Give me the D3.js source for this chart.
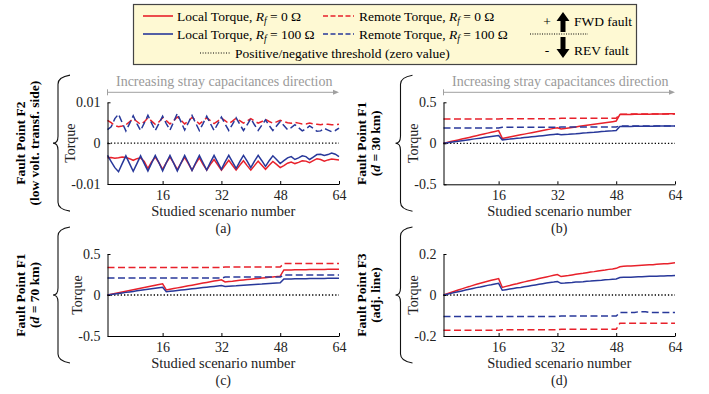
<!DOCTYPE html>
<html>
<head>
<meta charset="utf-8">
<title>Torque vs scenario</title>
<script src="https://cdn.jsdelivr.net/npm/d3@7"></script>
<style>
body { margin: 0; background: #fff; }
svg text { font-family: "Liberation Serif", "Times New Roman", serif; }
</style>
</head>
<body>
<script>

var width = 709
var height = 394

// scenario numbers (x categories)
var scenarios = d3.range(1, 65)
var xTicks = [16, 32, 48, 64]

// ---- (a) Fault point F2, low voltage transformer side ----
var f2LocalR0 = [-0.0036,-0.0035,-0.0037,-0.0036,-0.0034,-0.0035,-0.0038,-0.0042,-0.0038,-0.0036,-0.0045,-0.0062,-0.0046,-0.0034,-0.0048,-0.0064,
	-0.0048,-0.0034,-0.0048,-0.0065,-0.0049,-0.0035,-0.0050,-0.0066,-0.0050,-0.0036,-0.0052,-0.0066,-0.0052,-0.0040,-0.0053,-0.0066,
	-0.0054,-0.0042,-0.0054,-0.0066,-0.0054,-0.0043,-0.0055,-0.0066,-0.0055,-0.0044,-0.0054,-0.0064,-0.0054,-0.0045,-0.0052,-0.0060,
	-0.0055,-0.0049,-0.0046,-0.0050,-0.0047,-0.0043,-0.0044,-0.0048,-0.0043,-0.0038,-0.0040,-0.0044,-0.0041,-0.0039,-0.0040,-0.0041]
var f2RemoteR0 = [0.0056,0.0050,0.0043,0.0040,0.0042,0.0045,0.0052,0.0060,0.0053,0.0046,0.0052,0.0062,0.0054,0.0046,0.0052,0.0062,
	0.0055,0.0047,0.0055,0.0064,0.0056,0.0047,0.0054,0.0063,0.0056,0.0047,0.0054,0.0062,0.0055,0.0048,0.0054,0.0061,
	0.0055,0.0048,0.0054,0.0061,0.0055,0.0049,0.0054,0.0060,0.0054,0.0049,0.0053,0.0058,0.0053,0.0049,0.0052,0.0056,
	0.0053,0.0050,0.0049,0.0051,0.0049,0.0047,0.0047,0.0049,0.0047,0.0046,0.0045,0.0047,0.0046,0.0045,0.0045,0.0046]
var f2LocalR100 = [-0.0030,-0.0045,-0.0060,-0.0070,-0.0050,-0.0031,-0.0050,-0.0069,-0.0050,-0.0031,-0.0050,-0.0068,-0.0049,-0.0030,-0.0048,-0.0068,
	-0.0048,-0.0030,-0.0049,-0.0068,-0.0049,-0.0030,-0.0048,-0.0067,-0.0048,-0.0030,-0.0048,-0.0066,-0.0047,-0.0030,-0.0047,-0.0064,
	-0.0046,-0.0030,-0.0046,-0.0062,-0.0045,-0.0030,-0.0044,-0.0060,-0.0044,-0.0030,-0.0043,-0.0057,-0.0043,-0.0031,-0.0040,-0.0050,
	-0.0043,-0.0036,-0.0033,-0.0040,-0.0036,-0.0031,-0.0033,-0.0040,-0.0034,-0.0028,-0.0027,-0.0030,-0.0028,-0.0024,-0.0027,-0.0033]
var f2RemoteR100 = [0.0033,0.0040,0.0060,0.0071,0.0050,0.0030,0.0048,0.0067,0.0048,0.0031,0.0049,0.0068,0.0049,0.0031,0.0048,0.0066,
	0.0048,0.0032,0.0052,0.0073,0.0052,0.0032,0.0050,0.0068,0.0049,0.0031,0.0048,0.0066,0.0048,0.0031,0.0047,0.0064,
	0.0047,0.0031,0.0046,0.0062,0.0046,0.0031,0.0045,0.0060,0.0045,0.0031,0.0044,0.0057,0.0043,0.0031,0.0042,0.0053,
	0.0043,0.0033,0.0038,0.0045,0.0038,0.0030,0.0035,0.0042,0.0036,0.0029,0.0030,0.0036,0.0032,0.0028,0.0031,0.0037]

// ---- (b) Fault point F1, d = 30 km ----
var f1d30LocalR0 = [0,0.010,0.021,0.031,0.041,0.052,0.062,0.072,0.083,0.093,0.103,0.114,0.124,0.134,0.145,0.155,
	0.060,0.069,0.077,0.086,0.095,0.103,0.112,0.121,0.130,0.138,0.147,0.156,0.164,0.173,0.182,0.190,
	0.175,0.181,0.188,0.194,0.200,0.207,0.213,0.219,0.226,0.232,0.238,0.245,0.251,0.257,0.264,0.272,
	0.350,0.351,0.351,0.352,0.353,0.353,0.354,0.355,0.355,0.356,0.357,0.357,0.358,0.359,0.359,0.360]
var f1d30RemoteR0 = [0.297,0.297,0.297,0.297,0.297,0.297,0.297,0.297,0.297,0.297,0.297,0.297,0.297,0.297,0.297,0.297,
	0.299,0.299,0.299,0.299,0.299,0.299,0.299,0.299,0.299,0.299,0.299,0.299,0.299,0.299,0.299,0.299,
	0.305,0.305,0.305,0.305,0.305,0.305,0.305,0.305,0.305,0.305,0.305,0.305,0.305,0.305,0.305,0.305,
	0.355,0.355,0.355,0.356,0.356,0.356,0.356,0.357,0.357,0.357,0.357,0.357,0.358,0.358,0.358,0.358]
var f1d30LocalR100 = [0,0.006,0.013,0.019,0.025,0.032,0.038,0.044,0.051,0.057,0.063,0.070,0.076,0.082,0.089,0.095,
	0.042,0.047,0.051,0.056,0.061,0.065,0.070,0.075,0.079,0.084,0.089,0.093,0.098,0.103,0.107,0.112,
	0.103,0.107,0.110,0.114,0.117,0.121,0.125,0.128,0.132,0.135,0.139,0.143,0.146,0.150,0.153,0.157,
	0.205,0.205,0.206,0.206,0.207,0.207,0.208,0.208,0.209,0.209,0.210,0.210,0.211,0.211,0.212,0.212]
var f1d30RemoteR100 = [0.186,0.186,0.186,0.186,0.186,0.186,0.186,0.186,0.186,0.186,0.186,0.186,0.186,0.186,0.186,0.186,
	0.196,0.196,0.196,0.196,0.196,0.196,0.196,0.196,0.196,0.196,0.196,0.196,0.196,0.196,0.196,0.196,
	0.198,0.198,0.198,0.198,0.198,0.198,0.198,0.198,0.198,0.198,0.198,0.198,0.198,0.198,0.198,0.198,
	0.212,0.212,0.212,0.212,0.212,0.212,0.212,0.212,0.212,0.212,0.212,0.212,0.212,0.212,0.212,0.212]

// ---- (c) Fault point F1, d = 70 km ----
var f1d70LocalR0 = [0,0.009,0.018,0.027,0.037,0.046,0.055,0.064,0.073,0.082,0.091,0.100,0.110,0.119,0.128,0.137,
	0.062,0.070,0.079,0.087,0.095,0.103,0.112,0.120,0.128,0.137,0.145,0.153,0.161,0.170,0.178,0.186,
	0.160,0.165,0.169,0.174,0.179,0.183,0.188,0.193,0.197,0.202,0.207,0.211,0.216,0.221,0.225,0.230,
	0.305,0.306,0.306,0.307,0.308,0.308,0.309,0.310,0.310,0.311,0.312,0.312,0.313,0.314,0.314,0.315]
var f1d70RemoteR0 = [0.335,0.335,0.335,0.335,0.335,0.335,0.335,0.335,0.335,0.335,0.335,0.335,0.335,0.335,0.335,0.335,
	0.335,0.335,0.335,0.335,0.335,0.335,0.335,0.335,0.335,0.335,0.335,0.335,0.335,0.335,0.335,0.335,
	0.342,0.342,0.342,0.342,0.342,0.342,0.342,0.342,0.342,0.342,0.342,0.342,0.342,0.342,0.342,0.342,
	0.385,0.385,0.385,0.385,0.385,0.385,0.385,0.385,0.385,0.385,0.385,0.385,0.385,0.385,0.385,0.385]
var f1d70LocalR100 = [0,0.006,0.013,0.019,0.025,0.032,0.038,0.044,0.051,0.057,0.063,0.070,0.076,0.082,0.089,0.095,
	0.040,0.045,0.050,0.055,0.060,0.065,0.070,0.075,0.080,0.085,0.090,0.095,0.100,0.105,0.110,0.115,
	0.105,0.108,0.111,0.113,0.116,0.119,0.122,0.125,0.128,0.131,0.133,0.136,0.139,0.142,0.145,0.148,
	0.195,0.196,0.196,0.197,0.198,0.198,0.199,0.200,0.200,0.201,0.202,0.202,0.203,0.204,0.204,0.205]
var f1d70RemoteR100 = [0.207,0.207,0.207,0.207,0.207,0.207,0.207,0.207,0.207,0.207,0.207,0.207,0.207,0.207,0.207,0.207,
	0.207,0.207,0.207,0.207,0.207,0.207,0.207,0.207,0.207,0.207,0.207,0.207,0.207,0.207,0.207,0.207,
	0.218,0.218,0.218,0.218,0.218,0.218,0.218,0.218,0.218,0.218,0.218,0.218,0.218,0.218,0.218,0.218,
	0.245,0.245,0.245,0.245,0.245,0.245,0.245,0.245,0.245,0.245,0.245,0.245,0.245,0.245,0.245,0.245]

// ---- (d) Fault point F3, adjacent line ----
var f3LocalR0 = [0,0.006,0.012,0.018,0.024,0.030,0.036,0.041,0.047,0.052,0.057,0.062,0.067,0.072,0.076,0.080,
	0.037,0.042,0.046,0.051,0.055,0.060,0.064,0.068,0.072,0.076,0.080,0.084,0.088,0.092,0.096,0.100,
	0.090,0.093,0.095,0.098,0.101,0.104,0.106,0.109,0.112,0.114,0.117,0.120,0.122,0.125,0.127,0.130,
	0.138,0.140,0.141,0.142,0.143,0.144,0.145,0.146,0.147,0.148,0.150,0.151,0.152,0.153,0.155,0.157]
var f3RemoteR0 = [-0.172,-0.172,-0.172,-0.172,-0.172,-0.172,-0.172,-0.172,-0.172,-0.172,-0.172,-0.172,-0.172,-0.172,-0.172,-0.172,
	-0.170,-0.170,-0.170,-0.170,-0.170,-0.170,-0.170,-0.170,-0.170,-0.170,-0.170,-0.170,-0.170,-0.170,-0.170,-0.170,
	-0.167,-0.167,-0.167,-0.167,-0.167,-0.167,-0.167,-0.167,-0.167,-0.167,-0.167,-0.167,-0.167,-0.167,-0.167,-0.167,
	-0.138,-0.138,-0.138,-0.138,-0.138,-0.138,-0.138,-0.138,-0.138,-0.138,-0.138,-0.138,-0.138,-0.138,-0.138,-0.138]
var f3LocalR100 = [0,0.004,0.008,0.012,0.016,0.020,0.024,0.028,0.032,0.036,0.039,0.043,0.047,0.050,0.054,0.057,
	0.023,0.026,0.029,0.032,0.035,0.037,0.040,0.043,0.046,0.049,0.052,0.055,0.058,0.061,0.063,0.066,
	0.057,0.058,0.060,0.061,0.063,0.064,0.065,0.067,0.068,0.070,0.071,0.072,0.074,0.075,0.077,0.078,
	0.085,0.086,0.087,0.087,0.088,0.089,0.089,0.090,0.091,0.091,0.092,0.093,0.093,0.094,0.094,0.095]
var f3RemoteR100 = [-0.105,-0.105,-0.105,-0.105,-0.105,-0.105,-0.105,-0.105,-0.105,-0.105,-0.105,-0.105,-0.105,-0.105,-0.105,-0.105,
	-0.105,-0.105,-0.105,-0.105,-0.105,-0.105,-0.105,-0.105,-0.105,-0.105,-0.105,-0.105,-0.105,-0.105,-0.105,-0.105,
	-0.103,-0.103,-0.103,-0.103,-0.103,-0.103,-0.103,-0.103,-0.103,-0.103,-0.103,-0.103,-0.103,-0.103,-0.103,-0.103,
	-0.085,-0.085,-0.085,-0.085,-0.085,-0.082,-0.082,-0.082,-0.085,-0.085,-0.085,-0.085,-0.085,-0.085,-0.085,-0.085]

var red = '#e8212b'
var blue = '#28389a'
var dash = '7,3.5'

// order: local R0, remote R0, local R100, remote R100
var seriesStyle = [
	{color: red, dash: null},
	{color: red, dash: dash},
	{color: blue, dash: null},
	{color: blue, dash: dash}
]

var svg = d3.select('body').append('svg')
	.attr('width', width)
	.attr('height', height)

var panels = [
	{tag: '(a)', left: 107.5, top: 102.3, bottom: 184, yDomain: [-0.01, 0.01], yTicks: [-0.01, 0, 0.01],
		series: [f2LocalR0, f2RemoteR0, f2LocalR100, f2RemoteR100],
		line1: 'Fault Point F2', line2: [['(low volt. transf. side)', false]],
		labelX: [25, 39], braceX: 58, torqueX: 75, hint: true},
	{tag: '(b)', left: 443.5, top: 102.3, bottom: 184.3, yDomain: [-0.5, 0.5], yTicks: [-0.5, 0, 0.5],
		series: [f1d30LocalR0, f1d30RemoteR0, f1d30LocalR100, f1d30RemoteR100],
		line1: 'Fault Point F1', line2: [['(', false], ['d', true], [' = 30 km)', false]],
		labelX: [366, 380], braceX: 400.5, torqueX: 418, hint: true},
	{tag: '(c)', left: 107.5, top: 254, bottom: 336, yDomain: [-0.5, 0.5], yTicks: [-0.5, 0, 0.5],
		series: [f1d70LocalR0, f1d70RemoteR0, f1d70LocalR100, f1d70RemoteR100],
		line1: 'Fault Point F1', line2: [['(', false], ['d', true], [' = 70 km)', false]],
		labelX: [25, 39], braceX: 58, torqueX: 82, hint: false},
	{tag: '(d)', left: 443.5, top: 254, bottom: 336, yDomain: [-0.2, 0.2], yTicks: [-0.2, 0, 0.2],
		series: [f3LocalR0, f3RemoteR0, f3LocalR100, f3RemoteR100],
		line1: 'Fault Point F3', line2: [['(adj. line)', false]],
		labelX: [366, 380], braceX: 400.5, torqueX: 418, hint: false}
]

var plotW = 231.5

panels.forEach(drawPanel)

function drawPanel(p) {
	var x = d3.scaleLinear().domain([1, 64]).range([p.left, p.left + plotW])
	var y = d3.scaleLinear().domain(p.yDomain).range([p.bottom, p.top])
	var g = svg.append('g')

	// zero threshold
	g.append('line')
		.attr('x1', x(1)).attr('x2', x(64))
		.attr('y1', y(0)).attr('y2', y(0))
		.attr('stroke', '#000')
		.attr('stroke-width', 1.3)
		.attr('stroke-dasharray', '1.3,2')

	var line = d3.line()
		.x(function(d, i) { return x(scenarios[i]) })
		.y(function(d) { return y(d) })

	p.series.forEach(function(s, k) {
		g.append('path')
			.datum(s)
			.attr('d', line)
			.attr('fill', 'none')
			.attr('stroke', seriesStyle[k].color)
			.attr('stroke-width', 1.5)
			.attr('stroke-dasharray', seriesStyle[k].dash)
	})

	var xAxis = g.append('g')
		.attr('transform', 'translate(0,' + p.bottom + ')')
		.call(d3.axisBottom(x).tickValues(xTicks).tickSizeInner(-3).tickSizeOuter(0).tickPadding(6))
	var yAxis = g.append('g')
		.attr('transform', 'translate(' + p.left + ',0)')
		.call(d3.axisLeft(y).tickValues(p.yTicks).tickSizeInner(-3).tickSizeOuter(0).tickPadding(7)
			.tickFormat(function(d) { return d === 0 ? '0' : String(d) }))

	;[xAxis, yAxis].forEach(function(a) {
		a.attr('font-family', null).attr('font-size', null)
		a.select('.domain').attr('stroke', '#000').attr('stroke-width', 1)
		a.selectAll('.tick line').attr('stroke', '#000')
		a.selectAll('.tick text').attr('fill', '#222').style('font-size', '14px')
	})

	var cx = p.left + plotW / 2
	var zy = y(0)

	svg.append('text')
		.attr('x', cx).attr('y', p.bottom + 32)
		.attr('text-anchor', 'middle')
		.style('font-size', '14.5px').attr('fill', '#222')
		.text('Studied scenario number')

	svg.append('text')
		.attr('x', cx).attr('y', p.bottom + 49)
		.attr('text-anchor', 'middle')
		.style('font-size', '14px').attr('fill', '#222')
		.text(p.tag)

	svg.append('text')
		.attr('transform', 'translate(' + p.torqueX + ',' + ((p.top + p.bottom) / 2) + ') rotate(-90)')
		.attr('text-anchor', 'middle')
		.style('font-size', '14px').attr('fill', '#222')
		.text('Torque')

	// fault point label
	svg.append('text')
		.attr('transform', 'translate(' + p.labelX[0] + ',' + zy + ') rotate(-90)')
		.attr('text-anchor', 'middle')
		.style('font-size', '13.5px').style('font-weight', 'bold')
		.text(p.line1)
	var t2 = svg.append('text')
		.attr('transform', 'translate(' + p.labelX[1] + ',' + zy + ') rotate(-90)')
		.attr('text-anchor', 'middle')
		.style('font-size', '13.5px').style('font-weight', 'bold')
	p.line2.forEach(function(part) {
		t2.append('tspan').style('font-style', part[1] ? 'italic' : 'normal').text(part[0])
	})

	// curly brace
	var bx = p.braceX, h = 68
	svg.append('path')
		.attr('d', 'M' + (bx + 12) + ',' + (zy - h) + ' Q' + bx + ',' + (zy - h + 2) + ' ' + bx + ',' + (zy - h + 9)
			+ ' L' + bx + ',' + (zy - 7) + ' Q' + bx + ',' + zy + ' ' + (bx - 5) + ',' + zy
			+ ' Q' + bx + ',' + zy + ' ' + bx + ',' + (zy + 7)
			+ ' L' + bx + ',' + (zy + h - 9) + ' Q' + bx + ',' + (zy + h - 2) + ' ' + (bx + 12) + ',' + (zy + h))
		.attr('fill', 'none').attr('stroke', '#111').attr('stroke-width', 1.1)

	if (p.hint) {
		var ay = p.top - 10
		svg.append('text')
			.attr('x', cx + 1).attr('y', p.top - 16)
			.attr('text-anchor', 'middle')
			.style('font-size', '14px').attr('fill', '#9a9a9a')
			.text('Increasing stray capacitances direction')
		svg.append('line')
			.attr('x1', x(1)).attr('x2', x(64) - 2).attr('y1', ay).attr('y2', ay)
			.attr('stroke', '#a0a0a0').attr('stroke-width', 1)
		svg.append('line')
			.attr('x1', x(1)).attr('x2', x(1)).attr('y1', ay - 3).attr('y2', ay + 3)
			.attr('stroke', '#a0a0a0').attr('stroke-width', 1)
		svg.append('path')
			.attr('d', 'M' + x(64) + ',' + ay + ' l-6,-2.5 l0,5 z')
			.attr('fill', '#a0a0a0')
	}
}

// ---- legend ----
var legendLocal = [['Local Torque, ', '0'], ['Local Torque, ', '100']]
var legendRemote = [['Remote Torque, ', '0'], ['Remote Torque, ', '100']]
var legendColors = [red, blue]

var lg = svg.append('g')
lg.append('rect')
	.attr('x', 133.5).attr('y', 4.5).attr('width', 503).attr('height', 60)
	.attr('fill', '#fef9d3').attr('stroke', '#444').attr('stroke-width', 1.2)

function rfLabel(gx, gy, prefix, val) {
	var t = lg.append('text').attr('x', gx).attr('y', gy).style('font-size', '13.5px')
	t.append('tspan').text(prefix)
	t.append('tspan').style('font-style', 'italic').text('R')
	t.append('tspan').style('font-style', 'italic').style('font-size', '9.5px').attr('dy', 3).text('f')
	t.append('tspan').attr('dy', -3).text(' = ' + val + ' \u03A9')
}

legendColors.forEach(function(c, i) {
	var ly = 16 + i * 18
	lg.append('line').attr('x1', 143).attr('x2', 173).attr('y1', ly).attr('y2', ly)
		.attr('stroke', c).attr('stroke-width', 1.6)
	rfLabel(177, ly + 4.5, legendLocal[i][0], legendLocal[i][1])
	lg.append('line').attr('x1', 323).attr('x2', 354).attr('y1', ly).attr('y2', ly)
		.attr('stroke', c).attr('stroke-width', 1.6).attr('stroke-dasharray', '5,2.5')
	rfLabel(359, ly + 4.5, legendRemote[i][0], legendRemote[i][1])
})

lg.append('line').attr('x1', 200).attr('x2', 231).attr('y1', 53).attr('y2', 53)
	.attr('stroke', '#000').attr('stroke-width', 1.2).attr('stroke-dasharray', '1,1.6')
lg.append('text').attr('x', 235).attr('y', 57.5).style('font-size', '13.5px')
	.text('Positive/negative threshold (zero value)')

// direction key
lg.append('text').attr('x', 547).attr('y', 26).attr('text-anchor', 'middle').style('font-size', '13.5px').text('+')
lg.append('text').attr('x', 547).attr('y', 55).attr('text-anchor', 'middle').style('font-size', '13.5px').text('-')
lg.append('path').attr('d', 'M563,12 L569.5,21 L565.5,21 L565.5,32 L560.5,32 L560.5,21 L556.5,21 Z').attr('fill', '#000')
lg.append('path').attr('d', 'M563,58 L569.5,49 L565.5,49 L565.5,37 L560.5,37 L560.5,49 L556.5,49 Z').attr('fill', '#000')
lg.append('line').attr('x1', 530).attr('x2', 588).attr('y1', 34).attr('y2', 34)
	.attr('stroke', '#000').attr('stroke-width', 1.1).attr('stroke-dasharray', '1,1.4')
lg.append('text').attr('x', 574).attr('y', 26).style('font-size', '13.5px').text('FWD fault')
lg.append('text').attr('x', 574).attr('y', 55).style('font-size', '13.5px').text('REV fault')

</script>
</body>
</html>
